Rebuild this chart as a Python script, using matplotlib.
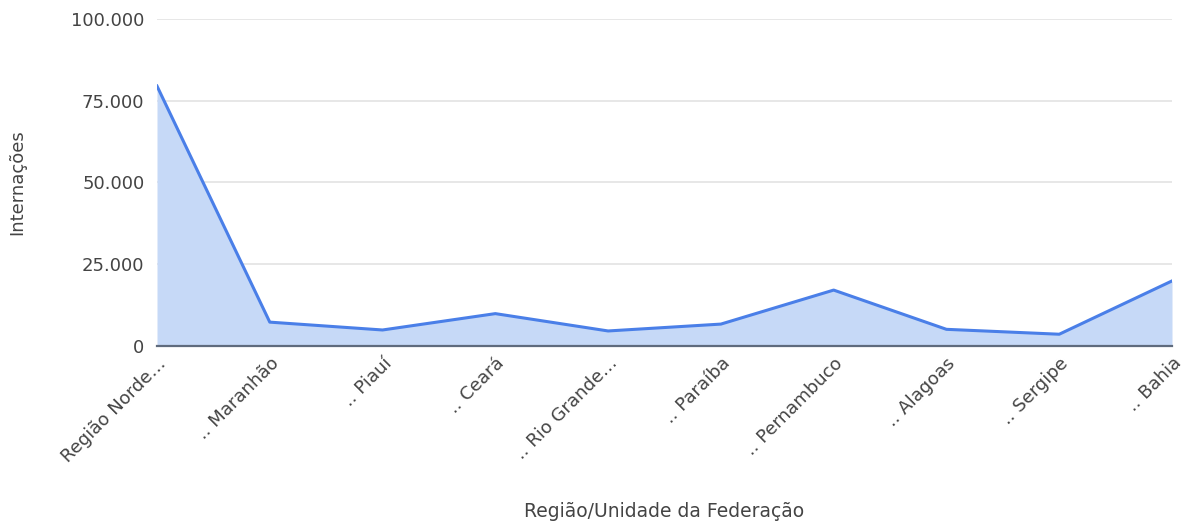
import numpy as np
import matplotlib

matplotlib.use("Agg")
import matplotlib.pyplot as plt
from matplotlib.ticker import FuncFormatter

plt.rcParams["font.family"] = ["DejaVu Sans"]

regioes = [
    "Região Norde…",
    ".. Maranhão",
    ".. Piauí",
    ".. Ceará",
    ".. Rio Grande…",
    ".. Paraíba",
    ".. Pernambuco",
    ".. Alagoas",
    ".. Sergipe",
    ".. Bahia",
]
internacoes = [79500, 7300, 4900, 9900, 4600, 6700, 17100, 5100, 3600, 19900]
y_ticks = [0, 25000, 50000, 75000, 100000]

LINE = "#4a7fe8"
FILL = "#c6d9f7"
TEXT = "#444444"


def _fmt_milhar(v, _pos):
    return f"{int(v):,}".replace(",", ".")


fig = plt.figure(figsize=(11.93, 5.26), dpi=100)
ax = fig.add_axes([0.1316, 0.3422, 0.8508, 0.6217])

x = np.arange(len(regioes))
ax.fill_between(x, internacoes, 0, color=FILL, linewidth=0, zorder=1)
ax.plot(x, internacoes, color=LINE, linewidth=2.2, zorder=3)

ax.set_xlim(0, len(regioes) - 1)
ax.set_ylim(0, 100000)
ax.set_yticks(y_ticks)
ax.yaxis.set_major_formatter(FuncFormatter(_fmt_milhar))
ax.grid(axis="y", color="#e3e3e3", linewidth=1.2, zorder=0)
ax.set_axisbelow(True)

for side in ("top", "right", "left"):
    ax.spines[side].set_visible(False)
ax.spines["bottom"].set_color("#5f6b7d")
ax.spines["bottom"].set_linewidth(1.6)
ax.spines["bottom"].set_zorder(4)

ax.tick_params(axis="both", length=0, colors=TEXT, labelsize=13)
ax.tick_params(axis="y", pad=9)
ax.set_xticks(x)
ax.set_xticklabels(regioes, rotation=45, ha="right", rotation_mode="anchor")
ax.tick_params(axis="x", pad=6)

ax.set_ylabel("Internações", color=TEXT, fontsize=13, labelpad=32)
ax.set_xlabel("Região/Unidade da Federação", color=TEXT, fontsize=13.5, labelpad=26)

fig.savefig("out.png", dpi=100)
plt.close(fig)
